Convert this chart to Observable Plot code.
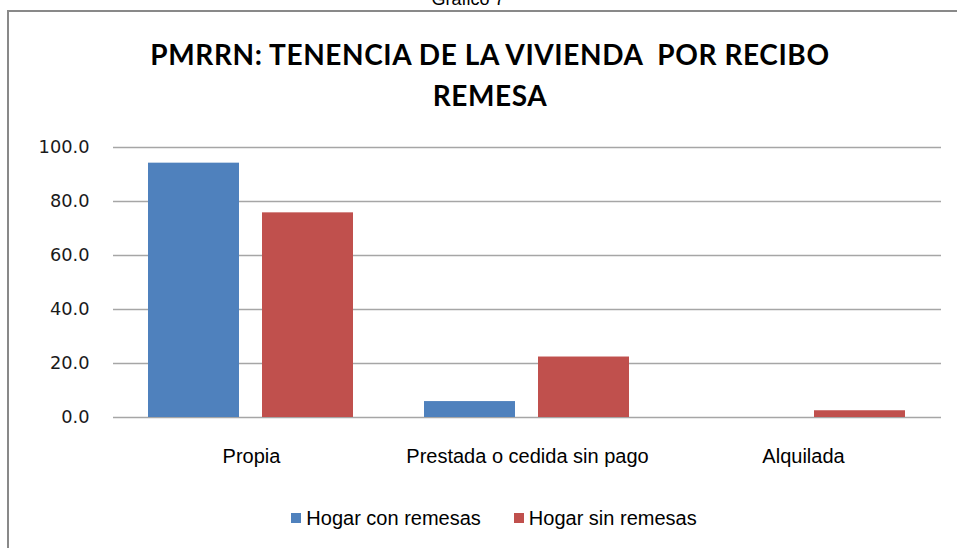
<!DOCTYPE html>
<html>
<head>
<meta charset="utf-8">
<script src="https://cdn.jsdelivr.net/npm/d3@7"></script>
<script src="https://cdn.jsdelivr.net/npm/@observablehq/plot@0.6"></script>
<style>
  html, body { margin: 0; padding: 0; background: #fff; }
  #root { position: relative; width: 957px; height: 548px; overflow: hidden; background: #fff;
          font-family: "Liberation Sans", Arial, sans-serif; color: #000; }
  #frame { position: absolute; left: 7px; top: 10px; width: 1100px; height: 700px;
           border-top: 2px solid #898989; border-left: 2px solid #898989; }
  #fig { position: absolute; left: 0; top: -10px; width: 936px; text-align: center;
         font-size: 18px; line-height: 18px; white-space: nowrap; }
  #title { position: absolute; left: 0; top: 34px; width: 980px; text-align: center;
           font-family: Lato, "Liberation Sans", sans-serif;
           font-weight: bold; font-size: 28px; line-height: 41px; letter-spacing: 0.6px; white-space: pre; }
  #chart { position: absolute; left: 0; top: 130px; }
  #legend { position: absolute; left: 0; top: 506px; width: 988px; display: flex;
            justify-content: center; align-items: center; font-size: 20px; line-height: 24px; white-space: nowrap; }
  .item { display: flex; align-items: center; }
  .sw { width: 10px; height: 10px; margin-right: 5px; }
  #chart svg g[aria-label="y-axis tick label"] text { font-family: "DejaVu Sans", Verdana, sans-serif; font-size: 17.8px; fill: #1a1a1a; }
  #chart svg g[aria-label="fx-axis tick label"] text { font-family: "Liberation Sans", Arial, sans-serif; font-size: 20px; fill: #000; }
</style>
</head>
<body>
<div id="root">
  <div id="frame"></div>
  <div id="fig">Gráfico 7</div>
  <div id="title"></div>
  <div id="chart"></div>
  <div id="legend"></div>
</div>
<script>
// ---- data ----
const titleLines = ["PMRRN: TENENCIA DE LA VIVIENDA  POR RECIBO", "REMESA"];
const categories = ["Propia", "Prestada o cedida sin pago", "Alquilada"];
const series = ["Hogar con remesas", "Hogar sin remesas"];
const conRemesas = [94.2, 5.9, 0];
const sinRemesas = [75.8, 22.4, 2.5];
const yTicks = [0, 20, 40, 60, 80, 100];
const colors = ["#4F81BD", "#C0504D"];

// ---- title ----
document.getElementById("title").textContent = titleLines.join("\n");

// ---- table ----
const data = categories.flatMap((c, i) => [
  {category: c, series: series[0], value: conRemesas[i]},
  {category: c, series: series[1], value: sinRemesas[i]}
]);

const chart = Plot.plot({
  width: 957,
  height: 345,
  marginLeft: 112,
  marginRight: 15,
  marginTop: 17,
  marginBottom: 58,
  style: {background: "transparent", overflow: "visible"},
  fx: {domain: categories, padding: 0, label: null, axis: "bottom", tickSize: 0, tickPadding: 31},
  x: {domain: series, paddingInner: 0.2, paddingOuter: 0.31, axis: null},
  y: {domain: [0, 100], ticks: yTicks, tickFormat: d => d.toFixed(1), label: null, tickSize: 0, tickPadding: 24},
  color: {domain: series, range: colors},
  marks: [
    Plot.ruleY(yTicks, {stroke: "#a6a6a6", strokeWidth: 1.3}),
    Plot.barY(data, {fx: "category", x: "series", y: "value", fill: "series"})
  ]
});
document.getElementById("chart").appendChild(chart);

// ---- legend ----
const legend = document.getElementById("legend");
series.forEach((s, i) => {
  const item = document.createElement("div");
  item.className = "item";
  if (i > 0) item.style.marginLeft = "33px";
  const sw = document.createElement("div");
  sw.className = "sw";
  sw.style.background = colors[i];
  const t = document.createElement("span");
  t.textContent = s;
  item.appendChild(sw);
  item.appendChild(t);
  legend.appendChild(item);
});
</script>
</body>
</html>
